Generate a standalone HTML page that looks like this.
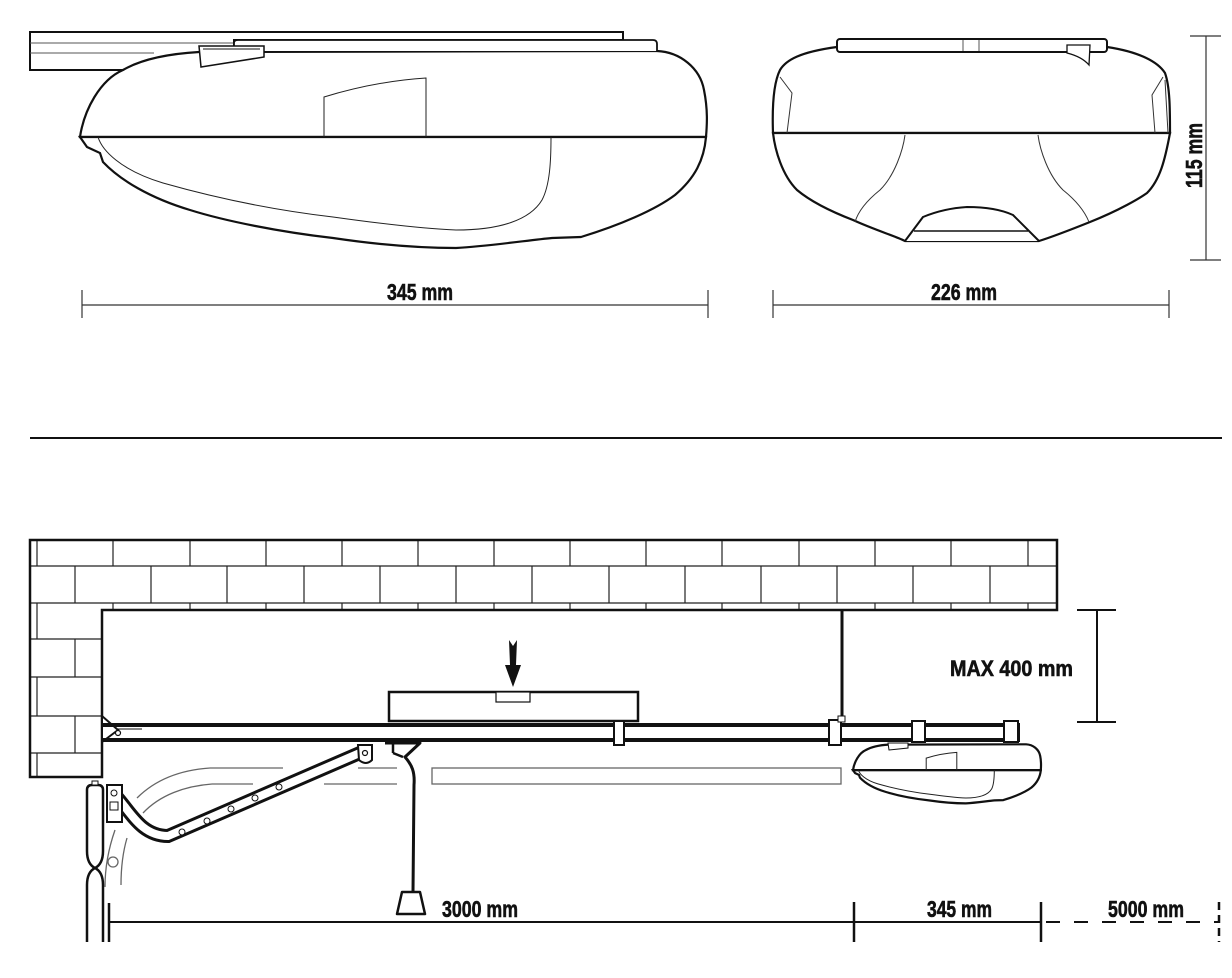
<!DOCTYPE html>
<html><head><meta charset="utf-8"><style>
html,body{margin:0;padding:0;background:#fff;}
svg{display:block;}
text{font-family:"Liberation Sans Narrow","Liberation Sans",sans-serif;font-weight:bold;fill:#111;stroke:#111;stroke-width:0.6;}
</style></head><body>
<svg width="1232" height="978" viewBox="0 0 1232 978" xmlns="http://www.w3.org/2000/svg">
<defs>
<g id="body">
  <path d="M80,137 C84,110 100,80 123,70 C140,60 165,54 199,52 L657,51 C680,52 700,68 704,90 C708,110 707,125 706,137 Z" fill="#fff" stroke="#111" stroke-width="2.2" vector-effect="non-scaling-stroke"/>
  <path d="M80,137 L87,147 L100,153 L103,162 C120,180 150,198 190,210 C225,221 280,232 333,238 C380,245 420,248 456,248 C490,246 530,240 552,238 L581,237 C620,225 655,210 675,195 C695,178 704,160 706,137 Z" fill="#fff" stroke="#111" stroke-width="2.2" vector-effect="non-scaling-stroke"/>
  <line x1="80" y1="137" x2="706" y2="137" stroke="#111" stroke-width="2" vector-effect="non-scaling-stroke"/>
  <path d="M98,137 C102,150 120,170 163,183 C230,202 290,212 333,217 C390,225 430,229 456,230 C500,230 530,220 542,200 C550,185 551,160 551,137" fill="none" stroke="#222" stroke-width="1" vector-effect="non-scaling-stroke"/>
  <path d="M324,137 L324,97 C360,86 395,80 426,78 L426,137" fill="none" stroke="#222" stroke-width="1" vector-effect="non-scaling-stroke"/>
</g>
</defs>

<!-- TOP LEFT VIEW -->
<g>
  <path d="M30,32 L623,32 L623,40 L234,40 L234,51 C200,52 160,58 123,70 L30,70 Z" fill="#fff" stroke="#111" stroke-width="2"/>
  <line x1="30" y1="43" x2="234" y2="43" stroke="#555" stroke-width="1"/>
  <line x1="30" y1="53" x2="154" y2="53" stroke="#555" stroke-width="1"/>
  <use href="#body"/>
  <path d="M234,51 L234,43 Q234,40 238,40 L653,40 Q657,40 657,44 L657,51" fill="#fff" stroke="#111" stroke-width="1.8"/>
  <path d="M199,46 L264,46 L264,57 L201,67 Z" fill="#fff" stroke="#111" stroke-width="1.5"/>
  <line x1="203" y1="49" x2="260" y2="49" stroke="#111" stroke-width="1"/>
  <line x1="82" y1="305" x2="708" y2="305" stroke="#333" stroke-width="1.2"/>
  <line x1="82" y1="290" x2="82" y2="318" stroke="#333" stroke-width="1.2"/>
  <line x1="708" y1="290" x2="708" y2="318" stroke="#333" stroke-width="1.2"/>
  <text x="387" y="300" font-size="23" textLength="66" lengthAdjust="spacingAndGlyphs">345 mm</text>
</g>

<!-- TOP RIGHT VIEW -->
<g>
  <path d="M773,133 C772,105 774,82 780,70 C786,60 800,52 837,47 L1107,47 C1140,52 1158,62 1165,73 C1170,87 1170,110 1170,133 Z" fill="#fff" stroke="#111" stroke-width="2.2"/>
  <path d="M773,133 C775,150 782,175 797,190 C815,205 840,215 853,220 C875,230 895,236 905,241 L1039,241 C1055,236 1075,228 1090,222 C1120,210 1140,198 1147,193 C1160,180 1165,160 1170,133 Z" fill="#fff" stroke="#111" stroke-width="2.2"/>
  <line x1="773" y1="133" x2="1170" y2="133" stroke="#111" stroke-width="2"/>
  <rect x="837" y="39" width="270" height="13" rx="3" fill="#fff" stroke="#111" stroke-width="2"/>
  <line x1="963" y1="40" x2="963" y2="51" stroke="#555" stroke-width="1"/>
  <line x1="979" y1="40" x2="979" y2="51" stroke="#555" stroke-width="1"/>
  <path d="M780,77 L792,93 L787,133" fill="none" stroke="#333" stroke-width="1"/>
  <path d="M1163,77 L1152,95 L1155,133" fill="none" stroke="#333" stroke-width="1"/>
  <line x1="1165" y1="80" x2="1168" y2="133" stroke="#333" stroke-width="1"/>
  <path d="M905,135 C903,150 895,175 880,190 C865,202 858,212 855,222" fill="none" stroke="#333" stroke-width="1"/>
  <path d="M1038,135 C1040,150 1048,175 1063,190 C1078,202 1085,212 1089,222" fill="none" stroke="#333" stroke-width="1"/>
  <path d="M905,241 L923,217 C935,212 950,208 967,207 C985,207 1000,209 1013,215 L1039,241" fill="#fff" stroke="#111" stroke-width="2"/>
  <line x1="914" y1="231" x2="1028" y2="231" stroke="#111" stroke-width="1.5"/>
  <path d="M1067,45 L1090,45 L1089,65 C1083,58 1075,55 1067,53 Z" fill="#fff" stroke="#111" stroke-width="1.3"/>
  <line x1="773" y1="305" x2="1169" y2="305" stroke="#333" stroke-width="1.2"/>
  <line x1="773" y1="290" x2="773" y2="318" stroke="#333" stroke-width="1.2"/>
  <line x1="1169" y1="290" x2="1169" y2="318" stroke="#333" stroke-width="1.2"/>
  <text x="931" y="300" font-size="23" textLength="66" lengthAdjust="spacingAndGlyphs">226 mm</text>
  <line x1="1206" y1="36" x2="1206" y2="260" stroke="#333" stroke-width="1.2"/>
  <line x1="1190" y1="36" x2="1221" y2="36" stroke="#333" stroke-width="1.2"/>
  <line x1="1190" y1="260" x2="1221" y2="260" stroke="#333" stroke-width="1.2"/>
  <text x="0" y="0" font-size="23" textLength="65" lengthAdjust="spacingAndGlyphs" transform="translate(1202,188) rotate(-90)">115 mm</text>
</g>

<line x1="30" y1="438" x2="1222" y2="438" stroke="#111" stroke-width="2"/>

<g stroke="#222" stroke-width="1.2" fill="none">
  <line x1="30" y1="566" x2="1057" y2="566"/>
  <line x1="30" y1="603" x2="1057" y2="603"/>
  <line x1="30" y1="639" x2="102" y2="639"/>
  <line x1="30" y1="677" x2="102" y2="677"/>
  <line x1="30" y1="716" x2="102" y2="716"/>
  <line x1="30" y1="753" x2="102" y2="753"/>
  <g>
    <line x1="37" y1="540" x2="37" y2="566"/><line x1="113" y1="540" x2="113" y2="566"/><line x1="190" y1="540" x2="190" y2="566"/><line x1="266" y1="540" x2="266" y2="566"/><line x1="342" y1="540" x2="342" y2="566"/><line x1="418" y1="540" x2="418" y2="566"/><line x1="494" y1="540" x2="494" y2="566"/><line x1="570" y1="540" x2="570" y2="566"/><line x1="646" y1="540" x2="646" y2="566"/><line x1="722" y1="540" x2="722" y2="566"/><line x1="799" y1="540" x2="799" y2="566"/><line x1="875" y1="540" x2="875" y2="566"/><line x1="951" y1="540" x2="951" y2="566"/><line x1="1028" y1="540" x2="1028" y2="566"/>
  </g>
  <g>
    <line x1="75" y1="566" x2="75" y2="603"/><line x1="151" y1="566" x2="151" y2="603"/><line x1="227" y1="566" x2="227" y2="603"/><line x1="304" y1="566" x2="304" y2="603"/><line x1="380" y1="566" x2="380" y2="603"/><line x1="456" y1="566" x2="456" y2="603"/><line x1="532" y1="566" x2="532" y2="603"/><line x1="609" y1="566" x2="609" y2="603"/><line x1="685" y1="566" x2="685" y2="603"/><line x1="761" y1="566" x2="761" y2="603"/><line x1="837" y1="566" x2="837" y2="603"/><line x1="913" y1="566" x2="913" y2="603"/><line x1="990" y1="566" x2="990" y2="603"/>
  </g>
  <g>
    <line x1="113" y1="603" x2="113" y2="610"/><line x1="190" y1="603" x2="190" y2="610"/><line x1="266" y1="603" x2="266" y2="610"/><line x1="342" y1="603" x2="342" y2="610"/><line x1="418" y1="603" x2="418" y2="610"/><line x1="494" y1="603" x2="494" y2="610"/><line x1="570" y1="603" x2="570" y2="610"/><line x1="646" y1="603" x2="646" y2="610"/><line x1="722" y1="603" x2="722" y2="610"/><line x1="799" y1="603" x2="799" y2="610"/><line x1="875" y1="603" x2="875" y2="610"/><line x1="951" y1="603" x2="951" y2="610"/><line x1="1028" y1="603" x2="1028" y2="610"/>
  </g>
  <line x1="37" y1="603" x2="37" y2="639"/>
  <line x1="75" y1="639" x2="75" y2="677"/>
  <line x1="37" y1="677" x2="37" y2="716"/>
  <line x1="75" y1="716" x2="75" y2="753"/>
  <line x1="37" y1="753" x2="37" y2="777"/>
</g>
<path d="M30,540 L1057,540 L1057,610 L102,610 L102,777 L30,777 Z" fill="none" stroke="#111" stroke-width="2.5"/>

<line x1="1097" y1="610" x2="1097" y2="722" stroke="#111" stroke-width="2"/>
<line x1="1077" y1="610" x2="1116" y2="610" stroke="#111" stroke-width="2"/>
<line x1="1077" y1="722" x2="1116" y2="722" stroke="#111" stroke-width="2"/>
<text x="950" y="676" font-size="22" textLength="123" lengthAdjust="spacingAndGlyphs">MAX 400 mm</text>

<g stroke="#666" stroke-width="1.3" fill="none">
  <line x1="210" y1="768" x2="283" y2="768"/><line x1="358" y1="768" x2="397" y2="768"/>
  <line x1="212" y1="784" x2="253" y2="784"/><line x1="324" y1="784" x2="397" y2="784"/>
  <rect x="432" y="768" width="409" height="16"/>
  <path d="M137,798 C155,780 180,770 210,768"/>
  <path d="M143,813 C160,795 185,786 212,784"/>
  <path d="M115,830 C108,850 105,870 105,887"/>
  <path d="M127,838 C122,855 121,870 121,885"/>
  <circle cx="113" cy="862" r="5"/>
</g>

<line x1="842" y1="610" x2="842" y2="722" stroke="#111" stroke-width="3"/>

<rect x="389" y="692" width="249" height="29" fill="#fff" stroke="#111" stroke-width="2.5"/>
<rect x="496" y="692" width="34" height="10" fill="#fff" stroke="#111" stroke-width="1.2"/>
<path d="M509,640 L513,646 L517,640 L516,665 L521,665 L513,687 L505,665 L510,665 Z" fill="#111"/>

<path d="M102,716 L118,730 L102,742 Z" fill="#fff" stroke="#111" stroke-width="2"/>
<rect x="102" y="723" width="918" height="4" fill="#111"/>
<rect x="102" y="738" width="918" height="4" fill="#111"/>
<line x1="1019" y1="723" x2="1019" y2="742" stroke="#111" stroke-width="2"/>
<line x1="118" y1="729" x2="142" y2="729" stroke="#111" stroke-width="1"/>
<circle cx="118" cy="733" r="2.5" fill="#fff" stroke="#111" stroke-width="1.2"/>
<g fill="#fff" stroke="#111" stroke-width="2">
  <rect x="614" y="721" width="10" height="24"/>
  <rect x="829" y="720" width="12" height="25"/>
  <rect x="912" y="721" width="13" height="21"/>
  <rect x="1004" y="721" width="14" height="21"/>
</g>
<rect x="838" y="716" width="7" height="6" fill="#fff" stroke="#111" stroke-width="1"/>

<g transform="translate(829,729) scale(0.3)">
  <use href="#body"/>
</g>
<path d="M888,743 L908,743 L908,748 L889,750 Z" fill="#fff" stroke="#111" stroke-width="1"/>

<path d="M385,743 L420,743 L405,757 C412,765 415,772 414,785 L413,892" fill="none" stroke="#111" stroke-width="3" stroke-linejoin="round"/>
<line x1="393" y1="743" x2="393" y2="753" stroke="#111" stroke-width="2.5"/>
<path d="M393,753 L403,757" stroke="#111" stroke-width="2.5"/>
<path d="M402,892 L420,892 L425,914 L397,914 Z" fill="#fff" stroke="#111" stroke-width="2.5" stroke-linejoin="round"/>

<path d="M114,794 C130,810 140,836 168,836 L362,752" fill="none" stroke="#111" stroke-width="14" stroke-linecap="round"/>
<path d="M114,794 C130,810 140,836 168,836 L362,752" fill="none" stroke="#fff" stroke-width="8" stroke-linecap="round"/>
<path d="M358,745 L372,745 L372,760 Q366,766 359,760 Z" fill="#fff" stroke="#111" stroke-width="2"/>
<circle cx="365" cy="753" r="2.5" fill="#fff" stroke="#111" stroke-width="1.2"/>
<g fill="#fff" stroke="#111" stroke-width="1">
  <circle cx="182" cy="832" r="3"/><circle cx="207" cy="821" r="3"/><circle cx="231" cy="809" r="3"/><circle cx="255" cy="798" r="3"/><circle cx="279" cy="787" r="3"/>
</g>
<rect x="107" y="785" width="15" height="37" fill="#fff" stroke="#111" stroke-width="2"/>
<circle cx="114" cy="793" r="3" fill="#fff" stroke="#111" stroke-width="1"/>
<rect x="110" y="802" width="8" height="8" fill="#fff" stroke="#111" stroke-width="1"/>

<path d="M87,942 L87,885 Q87,872 95,868 Q87,864 87,851 L87,790 Q87,785 92,785 L98,785 Q103,785 103,790 L103,851 Q103,864 95,868 Q103,872 103,885 L103,942" fill="#fff" stroke="#111" stroke-width="2.5"/>
<rect x="92" y="781" width="6" height="4" fill="#fff" stroke="#111" stroke-width="1"/>

<line x1="109" y1="922" x2="1041" y2="922" stroke="#111" stroke-width="2"/>
<line x1="109" y1="903" x2="109" y2="942" stroke="#111" stroke-width="2.5"/>
<line x1="854" y1="902" x2="854" y2="942" stroke="#111" stroke-width="2.5"/>
<line x1="1041" y1="902" x2="1041" y2="942" stroke="#111" stroke-width="2.5"/>
<line x1="1046" y1="922" x2="1219" y2="922" stroke="#111" stroke-width="2" stroke-dasharray="14,14"/>
<line x1="1219" y1="902" x2="1219" y2="942" stroke="#111" stroke-width="2.5" stroke-dasharray="8,5"/>
<text x="442" y="917" font-size="23" textLength="76" lengthAdjust="spacingAndGlyphs">3000 mm</text>
<text x="927" y="917" font-size="23" textLength="65" lengthAdjust="spacingAndGlyphs">345 mm</text>
<text x="1108" y="917" font-size="23" textLength="76" lengthAdjust="spacingAndGlyphs">5000 mm</text>
</svg>
</body></html>
